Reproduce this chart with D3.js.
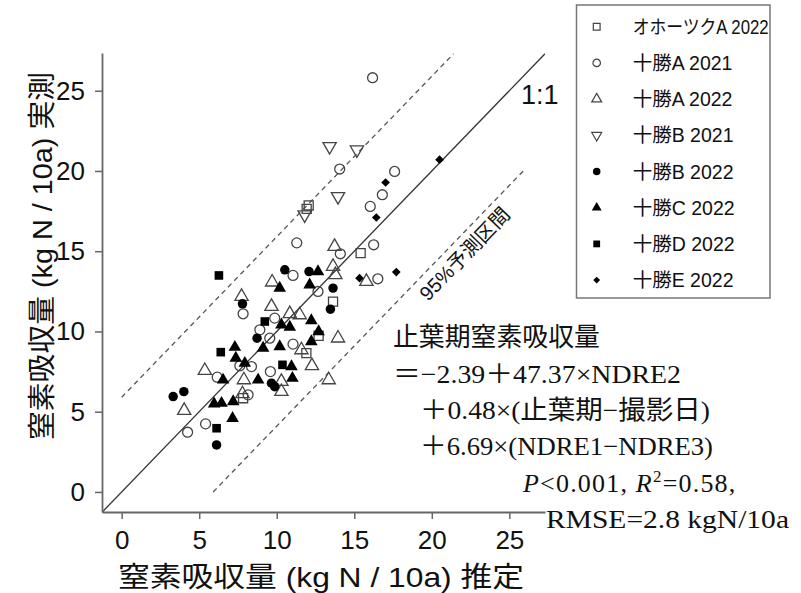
<!DOCTYPE html>
<html>
<head>
<meta charset="utf-8">
<script src="https://cdn.jsdelivr.net/npm/d3@7"></script>
<style>
  body { margin: 0; background: #fff; }
</style>
</head>
<body>
<div id="graph"></div>
<script>
// series names (legend order)
var seriesNames = ["オホーツクA 2022", "十勝A 2021", "十勝A 2022", "十勝B 2021",
  "十勝B 2022", "十勝C 2022", "十勝D 2022", "十勝E 2022"];
var seriesShapes = ["square", "circle", "triangle", "triangleDown",
  "circle", "triangle", "square", "diamond"];
var seriesFilled = [false, false, false, false, true, true, true, true];

// [estimated, measured] (kg N / 10a)
var okhotskA2022 = [[11.93, 17.64], [12.06, 17.85], [15.41, 14.88], [13.63, 11.86],
  [11.91, 8.65], [7.83, 5.84], [12.70, 9.73]];
var tokachiA2021 = [[16.18, 25.81], [14.06, 20.12], [17.60, 19.97], [16.81, 18.52],
  [16.03, 17.79], [11.29, 15.52], [14.10, 14.84], [16.25, 15.40], [16.52, 13.28],
  [12.66, 12.49], [11.05, 13.49], [7.83, 11.10], [9.87, 10.83], [8.91, 10.10],
  [9.55, 9.58], [11.05, 9.21], [7.62, 7.86], [8.37, 7.81], [6.16, 7.15],
  [9.59, 7.50], [8.15, 6.05], [5.41, 4.24], [4.25, 3.72]];
var tokachiA2022 = [[13.73, 15.29], [13.63, 14.05], [13.78, 13.53], [15.78, 13.11],
  [9.70, 13.07], [7.73, 12.18], [9.66, 11.55], [10.84, 11.10], [11.48, 11.03],
  [11.59, 8.85], [13.95, 9.58], [5.36, 7.56], [7.88, 6.98], [12.27, 7.86],
  [10.30, 6.88], [10.30, 6.25], [7.79, 6.11], [4.03, 5.07], [13.35, 6.98]];
var tokachiB2021 = [[13.41, 21.53], [15.17, 21.32], [13.95, 18.41], [11.80, 17.27]];
var tokachiB2022 = [[10.52, 13.84], [12.08, 13.73], [7.79, 11.72], [8.73, 9.58],
  [13.63, 12.70], [13.46, 11.39], [9.66, 6.78], [9.87, 6.56], [3.32, 5.94],
  [4.01, 6.25], [6.12, 2.93]];
var tokachiC2022 = [[10.19, 12.70], [12.66, 13.73], [12.12, 12.91], [12.23, 10.68],
  [10.84, 10.27], [10.19, 9.06], [9.12, 8.96], [12.23, 9.37], [12.70, 9.99],
  [7.30, 9.02], [7.36, 8.34], [7.94, 8.02], [6.54, 6.98], [8.80, 6.98],
  [10.95, 7.81], [11.01, 7.09], [5.96, 5.49], [6.44, 5.53], [7.19, 5.63],
  [7.15, 4.59], [10.30, 10.41]];
var tokachiD2022 = [[6.27, 13.49], [9.23, 10.62], [6.39, 8.71], [10.37, 7.92],
  [6.12, 3.97]];
var tokachiE2022 = [[20.50, 20.70], [17.02, 19.28], [16.42, 17.10], [15.34, 13.32],
  [17.71, 13.70]];
var seriesData = [okhotskA2022, tokachiA2021, tokachiA2022, tokachiB2021,
  tokachiB2022, tokachiC2022, tokachiD2022, tokachiE2022];

// reference lines
var oneToOne = [[-1.3, -1.3], [27.3, 27.3]];
var upperPI = [[0, 5.9], [21.4, 27.3]];
var lowerPI = [[5.9, 0], [25.9, 20.0]];

var tickValues = [0, 5, 10, 15, 20, 25];
var xTitle = "窒素吸収量 (kg N / 10a) 推定";
var yTitle = "窒素吸収量 (kg N / 10a) 実測";
var eqLines = ["止葉期窒素吸収量", "＝−2.39＋47.37×NDRE2",
  "＋0.48×(止葉期−撮影日)", "＋6.69×(NDRE1−NDRE3)"];
var statP = "0.001", statR2 = "0.58", statRMSE = "RMSE=2.8 kgN/10a";

////////////////////////////////////////////////////////////////////////////////
const WIDTH = 801;
const HEIGHT = 593;
const SANS = "'Liberation Sans', Arial, 'Noto Sans CJK JP', sans-serif";
const SERIF = "'Liberation Serif', 'Noto Sans CJK JP', serif";

var svg = d3.select("#graph")
  .append("svg")
  .attr("width", WIDTH)
  .attr("height", HEIGHT)
  .style("display", "block");

// plot region (R-style usr extent)
var x = d3.scaleLinear().domain([-1.27, 27.3]).range([102, 545]);
var y = d3.scaleLinear().domain([-1.25, 27.35]).range([512, 53]);

svg.append("clipPath").attr("id", "plotclip")
  .append("rect")
  .attr("x", 102).attr("y", 53)
  .attr("width", 443).attr("height", 459);

function symbolPath(shape, scale) {
  var s = scale || 1;
  if (shape === "square") return d3.symbol(d3.symbolSquare, 82 * s * s)();
  if (shape === "circle") return d3.symbol(d3.symbolCircle, 78 * s * s)();
  if (shape === "diamond") return d3.symbol(d3.symbolSquare, 42 * s * s)();
  return d3.symbol(d3.symbolTriangle, 76 * s * s)();
}
function symbolRotate(shape) {
  if (shape === "triangleDown") return 180;
  if (shape === "diamond") return 45;
  return 0;
}

var line = d3.line()
  .x(function (d) { return x(d[0]); })
  .y(function (d) { return y(d[1]); });

var plot = svg.append("g").attr("clip-path", "url(#plotclip)");

plot.append("path")
  .attr("d", line(oneToOne))
  .attr("fill", "none")
  .attr("stroke", "#333")
  .attr("stroke-width", 1.3);

[upperPI, lowerPI].forEach(function (pi) {
  plot.append("path")
    .attr("d", line(pi))
    .attr("fill", "none")
    .attr("stroke", "#555")
    .attr("stroke-width", 1.3)
    .attr("stroke-dasharray", "5,4");
});

// points
seriesData.forEach(function (data, i) {
  var shape = seriesShapes[i];
  plot.append("g")
    .selectAll("path")
    .data(data)
    .enter().append("path")
    .attr("d", symbolPath(shape, seriesFilled[i] ? 0.95 : 1))
    .attr("transform", function (d) {
      return "translate(" + x(d[0]) + "," + y(d[1]) + ") rotate(" + symbolRotate(shape) + ")";
    })
    .attr("fill", seriesFilled[i] ? "#000" : "none")
    .attr("stroke", seriesFilled[i] ? "none" : "#444")
    .attr("stroke-width", 1.3);
});

// axes
var xAxis = d3.axisBottom(x).tickValues(tickValues).tickSize(7)
  .tickSizeOuter(0).tickPadding(12);
var yAxis = d3.axisLeft(y).tickValues(tickValues).tickSize(7)
  .tickSizeOuter(0).tickPadding(10);

var gx = svg.append("g")
  .attr("transform", "translate(0," + 512 + ")")
  .call(xAxis);
var gy = svg.append("g")
  .attr("transform", "translate(" + 102 + ",0)")
  .call(yAxis);

[gx, gy].forEach(function (g) {
  g.select(".domain").attr("stroke", "#666").attr("stroke-width", 1.8);
  g.selectAll(".tick line").attr("stroke", "#666").attr("stroke-width", 1.5);
  g.selectAll(".tick text")
    .attr("fill", "#111")
    .style("font-family", SANS)
    .style("font-size", "26px");
});

svg.append("text")
  .attr("x", 118).attr("y", 587)
  .attr("textLength", 406)
  .attr("lengthAdjust", "spacingAndGlyphs")
  .style("font-family", SANS)
  .style("font-size", "28px")
  .attr("fill", "#111")
  .text(xTitle);

svg.append("text")
  .attr("transform", "translate(52,440) rotate(-90)")
  .attr("textLength", 368)
  .attr("lengthAdjust", "spacingAndGlyphs")
  .style("font-family", SANS)
  .style("font-size", "28px")
  .attr("fill", "#111")
  .text(yTitle);

// line labels
svg.append("text")
  .attr("x", 521).attr("y", 104)
  .style("font-family", SANS)
  .style("font-size", "27px")
  .attr("fill", "#111")
  .text("1:1");

svg.append("text")
  .attr("transform", "translate(428,302) rotate(-46)")
  .style("font-family", SANS)
  .style("font-size", "20px")
  .attr("fill", "#111")
  .text("95%予測区間");

// legend
var legend = svg.append("g");
legend.append("rect")
  .attr("x", 576.5).attr("y", 5)
  .attr("width", 193.5).attr("height", 293)
  .attr("fill", "#fff")
  .attr("stroke", "#777")
  .attr("stroke-width", 1.5);

seriesNames.forEach(function (name, i) {
  var cy = 26.7 + i * 36.2;
  var shape = seriesShapes[i];
  legend.append("path")
    .attr("d", symbolPath(shape, 0.75))
    .attr("transform", "translate(596.7," + cy + ") rotate(" + symbolRotate(shape) + ")")
    .attr("fill", seriesFilled[i] ? "#000" : "none")
    .attr("stroke", seriesFilled[i] ? "none" : "#444")
    .attr("stroke-width", 1.2);
  var t = legend.append("text")
    .attr("x", 632.7).attr("y", cy)
    .attr("dy", "0.36em")
    .style("font-family", SANS)
    .style("font-size", "19.5px")
    .attr("fill", "#111")
    .text(name);
  if (i === 0) t.attr("textLength", 136).attr("lengthAdjust", "spacingAndGlyphs");
});

// equation block
var eqPos = [[393, 346, 207], [393, 383, 288], [420, 419, 290], [420, 455, 293]];
eqLines.forEach(function (txt, i) {
  svg.append("text")
    .attr("x", eqPos[i][0]).attr("y", eqPos[i][1])
    .attr("textLength", eqPos[i][2])
    .attr("lengthAdjust", "spacingAndGlyphs")
    .style("font-family", SERIF)
    .style("font-size", "26px")
    .attr("fill", "#111")
    .text(txt);
});

var st = svg.append("text")
  .attr("x", 523).attr("y", 492)
  .style("font-family", SERIF)
  .style("font-size", "26px")
  .style("letter-spacing", "1.2px")
  .attr("fill", "#111");
st.append("tspan").style("font-style", "italic").text("P");
st.append("tspan").text("<" + statP + ", ");
st.append("tspan").style("font-style", "italic").text("R");
st.append("tspan").attr("dy", -10).style("font-size", "17px").text("2");
st.append("tspan").attr("dy", 10).text("=" + statR2 + ",");

svg.append("text")
  .attr("x", 546).attr("y", 528)
  .attr("textLength", 243)
  .attr("lengthAdjust", "spacingAndGlyphs")
  .style("font-family", SERIF)
  .style("font-size", "26px")
  .attr("fill", "#111")
  .text(statRMSE);
</script>
</body>
</html>
